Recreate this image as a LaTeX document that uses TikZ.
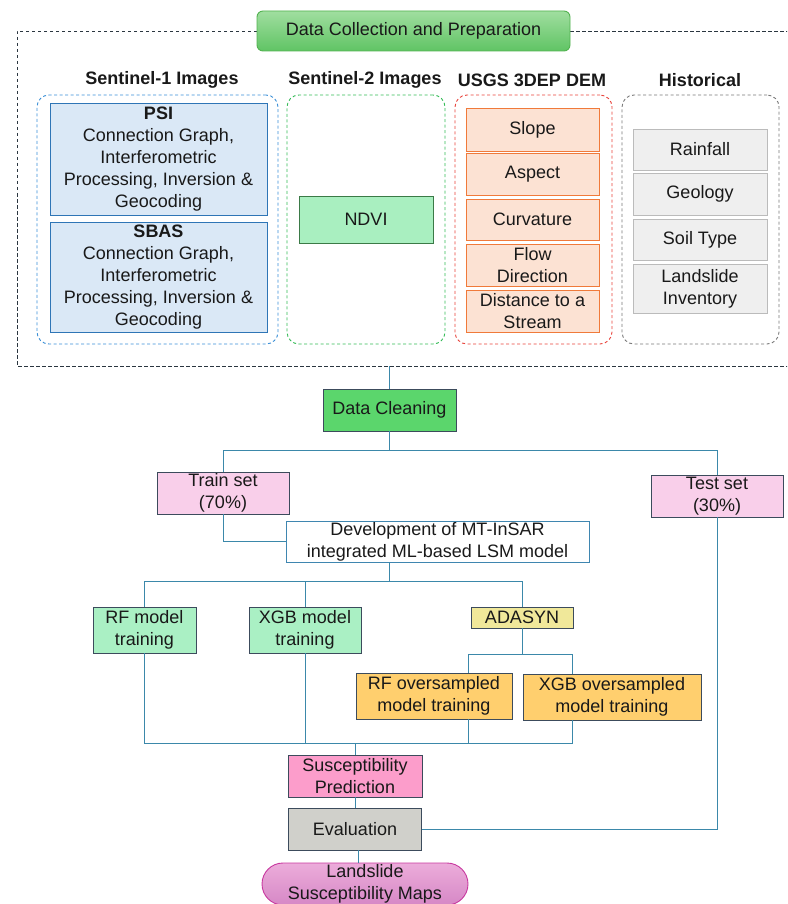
\documentclass[tikz,border=0pt]{standalone}
\usepackage{fontspec}
\setmainfont{Liberation Sans}
\usetikzlibrary{shapes.misc,calc}
\definecolor{conn}{HTML}{3B88AA}
\definecolor{dk}{HTML}{3C4B5C}
\definecolor{frame}{HTML}{2B3640}
\begin{document}
\begin{tikzpicture}[x=1pt,y=1pt,
  every node/.style={font=\fontsize{18}{22}\selectfont, text=black!90, inner sep=0pt, align=center},
  bx/.style args={#1/#2}{draw, rectangle, minimum width=#1, minimum height=#2, line width=0.9pt},
  grp/.style={draw, dashed, rounded corners=12pt, line width=0.9pt, dash pattern=on 3pt off 2.5pt},
  head/.style={font=\fontsize{18}{22}\selectfont\bfseries},
  bluebox/.style={fill={rgb,255:red,218;green,232;blue,246}, draw={rgb,255:red,46;green,117;blue,182}},
  redbox/.style={fill={rgb,255:red,252;green,226;blue,211}, draw={rgb,255:red,240;green,122;blue,58}},
  graybox/.style={fill={rgb,255:red,239;green,239;blue,239}, draw={rgb,255:red,187;green,187;blue,187}},
  lnk/.style={draw=conn, line width=1pt}
]
\path[use as bounding box] (0,0) rectangle (787,-904);
\clip (0,0) rectangle (787,-904);

% outer frame
\draw[frame, line width=0.9pt, dash pattern=on 3.5pt off 2.5pt] (257,-31) -- (17,-31) -- (17,-366) -- (790,-366);
\draw[frame, line width=0.9pt, dash pattern=on 3.5pt off 2.5pt] (570,-31) -- (790,-31);
\node[bx=313/40, rounded corners=6pt, draw={rgb,255:red,82;green,178;blue,80}, top color={rgb,255:red,160;green,222;blue,160}, bottom color={rgb,255:red,96;green,196;blue,100}] (title) at (413.5,-31) {Data Collection and Preparation};

% headings
\node[head] (h1) at (162,-80) {Sentinel-1 Images};
\node[head] (h2) at (365,-80) {Sentinel-2 Images};
\node[head] (h3) at (532,-80) {USGS 3DEP DEM};
\node[head] (h4) at (700,-80) {Historical};

% groups
\node[grp, draw={rgb,255:red,58;green,143;blue,214}, minimum width=241, minimum height=249] (g1) at (157.5,-219.5) {};
\node[grp, draw={rgb,255:red,51;green,187;blue,85}, minimum width=158, minimum height=249] (g2) at (366,-219.5) {};
\node[grp, draw={rgb,255:red,232;green,66;blue,58}, minimum width=157, minimum height=249] (g3) at (533.5,-219.5) {};
\node[grp, draw={rgb,255:red,120;green,120;blue,120}, minimum width=157, minimum height=249] (g4) at (700.5,-219.5) {};

% Sentinel-1
\node[bx=217/112, bluebox] (psi) at (158.5,-159) {\textbf{PSI}\\Connection Graph,\\Interferometric\\Processing, Inversion \&\\Geocoding};
\node[bx=217/110, bluebox] (sbas) at (158.5,-277) {\textbf{SBAS}\\Connection Graph,\\Interferometric\\Processing, Inversion \&\\Geocoding};

% Sentinel-2
\node[bx=134/47, fill={rgb,255:red,169;green,239;blue,192}, draw={rgb,255:red,59;green,122;blue,71}] (ndvi) at (366,-219.5) {NDVI};

% DEM
\node[bx=133/43, redbox] (slope) at (532.5,-129.5) {Slope};
\node[bx=133/42, redbox] (aspect) at (532.5,-174) {Aspect};
\node[bx=133/41, redbox] (curv) at (532.5,-219.5) {Curvature};
\node[bx=133/42, redbox] (flow) at (532.5,-265) {Flow\\Direction};
\node[bx=133/42, redbox] (dist) at (532.5,-311) {Distance to a\\Stream};

% Historical
\node[bx=134/41, graybox] (rain) at (700,-149.5) {Rainfall};
\node[bx=134/42, graybox] (geol) at (700,-194) {Geology};
\node[bx=134/41, graybox] (soil) at (700,-239.5) {Soil Type};
\node[bx=134/49, graybox] (inv) at (700,-288.5) {Landslide\\Inventory};

% lower flow
\node[bx=133/42, fill={rgb,255:red,91;green,214;blue,108}, draw=dk] (dc) at (389.5,-410) {Data Cleaning};
\node[bx=132/42, fill={rgb,255:red,249;green,207;blue,234}, draw=dk] (train) at (223,-493) {Train set\\(70\%)};
\node[bx=132/42, fill={rgb,255:red,249;green,207;blue,234}, draw=dk] (test) at (717,-496) {Test set\\(30\%)};
\node[bx=303/41, fill=white, draw={rgb,255:red,63;green,134;blue,176}] (dev) at (437.5,-541.5) {Development of MT-InSAR\\integrated ML-based LSM model};
\node[bx=103/46, fill={rgb,255:red,170;green,240;blue,196}, draw=dk] (rf) at (144.5,-630) {RF model\\training};
\node[bx=112/46, fill={rgb,255:red,170;green,240;blue,196}, draw=dk] (xgb) at (305,-630) {XGB model\\training};
\node[bx=102/21, fill={rgb,255:red,240;green,232;blue,154}, draw=dk] (ada) at (522,-617.5) {ADASYN};
\node[bx=156/46, fill={rgb,255:red,255;green,207;blue,110}, draw=dk] (rfo) at (434,-696) {RF oversampled\\model training};
\node[bx=178/46, fill={rgb,255:red,255;green,207;blue,110}, draw=dk] (xgbo) at (612,-697) {XGB oversampled\\model training};
\node[bx=134/42, fill={rgb,255:red,252;green,157;blue,203}, draw=dk] (susc) at (355,-776) {Susceptibility\\Prediction};
\node[bx=133/42, fill={rgb,255:red,208;green,208;blue,203}, draw=dk] (eval) at (355,-829) {Evaluation};
\node[rounded rectangle, minimum width=206, minimum height=42, line width=0.9pt, draw={rgb,255:red,200;green,56;blue,159}, top color={rgb,255:red,236;green,172;blue,218}, bottom color={rgb,255:red,214;green,136;blue,198}] (maps) at (365,-884) {Landslide\\Susceptibility Maps};

% connectors
\coordinate (dcin) at (389.5,-366);
\draw[lnk] (dcin) -- (dc.north);
\draw[lnk] (dc.south) -- ++(0,-19) coordinate (s1);
\draw[lnk] (train.north) |- (s1) -| (test.north);
\draw[lnk] (train.south) |- (dev.west);
\draw[lnk] (dev.south -| dc.south) -- ++(0,-19.5) coordinate (s2);
\draw[lnk] (rf.north) |- (s2) -| (ada.north);
\draw[lnk] (xgb.north) -- (xgb.north |- s2);
\draw[lnk] (ada.south) -- ++(0,-26.5) coordinate (s3);
\draw[lnk] ([xshift=34]rfo.north) |- (s3) -| ([xshift=-40]xgbo.north);
\coordinate (merge) at (355,-743);
\draw[lnk] (rf.south) |- (merge);
\draw[lnk] (xgb.south) |- (merge);
\draw[lnk] ([xshift=34]rfo.south) |- (merge);
\draw[lnk] ([xshift=-40]xgbo.south) |- (merge);
\draw[lnk] (merge) -- (susc.north);
\draw[lnk] (susc.south) -- (eval.north);
\draw[lnk] ([xshift=3]eval.south) -- ([xshift=3]eval.south |- maps.north);
\draw[lnk] (eval.east) -| (test.south);
\end{tikzpicture}
\end{document}
